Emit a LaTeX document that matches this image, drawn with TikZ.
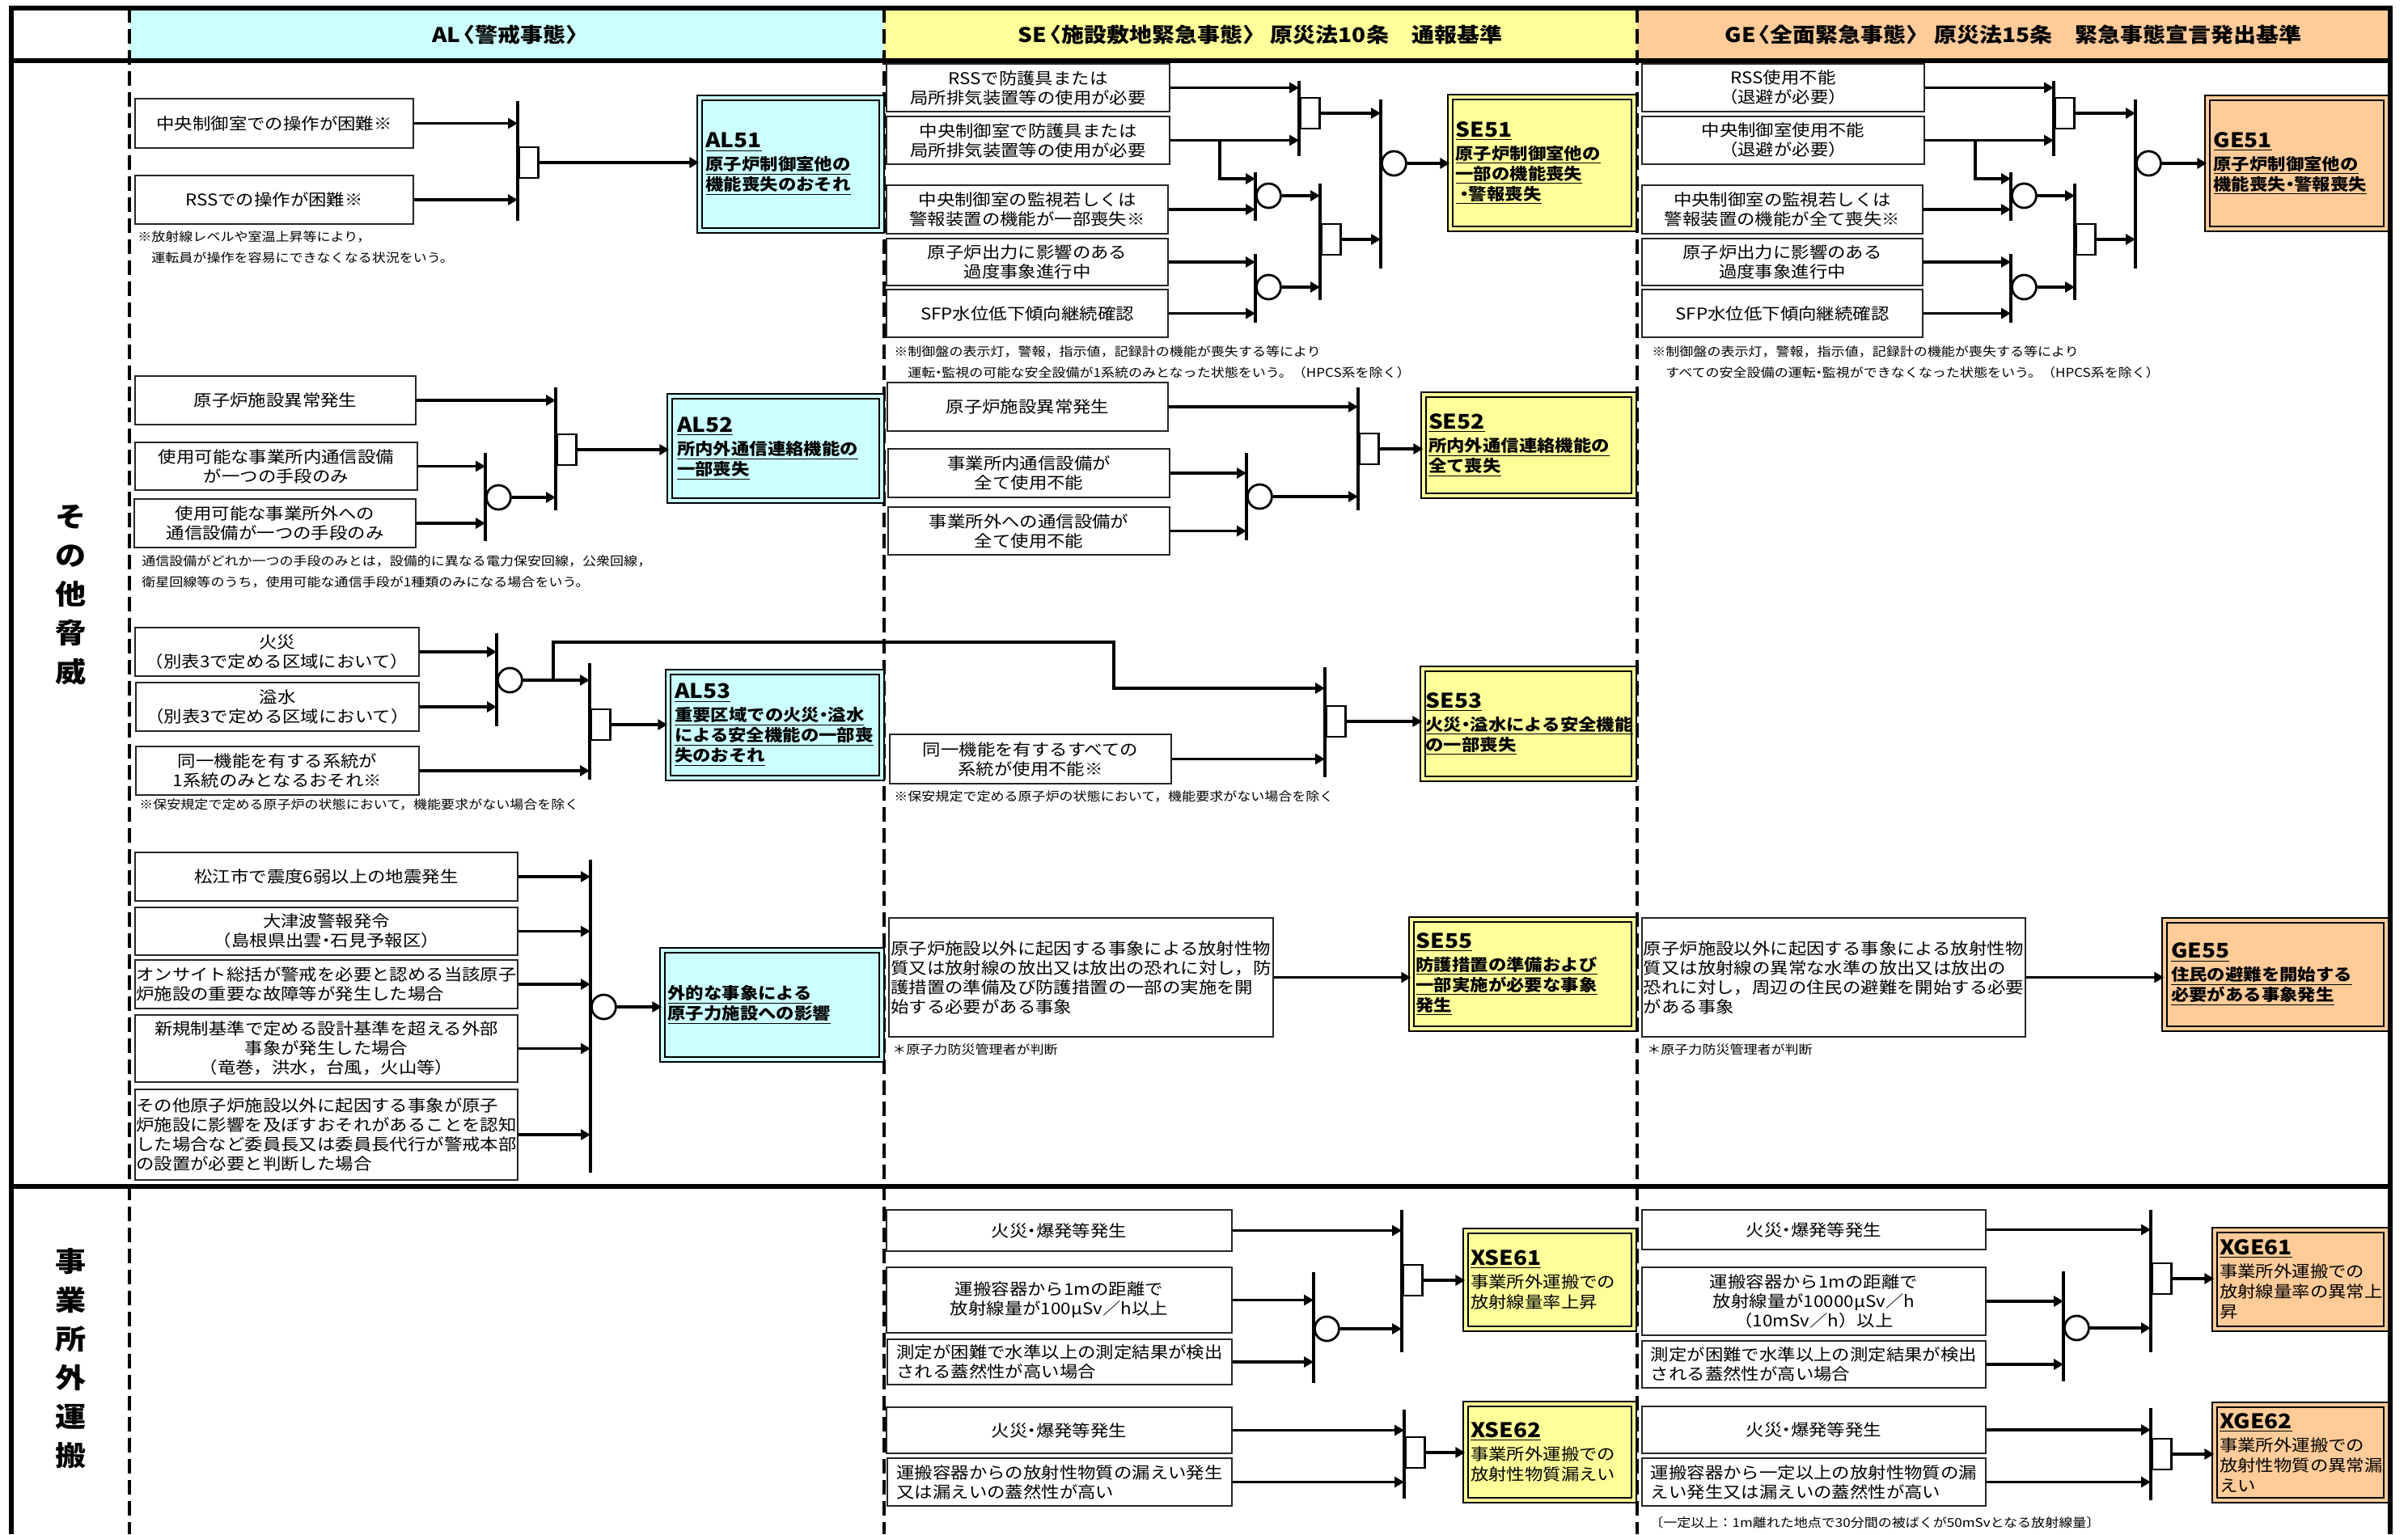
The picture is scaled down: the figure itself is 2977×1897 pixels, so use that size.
\documentclass[tikz,border=0pt]{standalone}
\usepackage{fontspec}
\setmainfont{Noto Sans CJK JP}[FakeStretch=1.12]
\usetikzlibrary{arrows.meta}

\definecolor{alcyan}{RGB}{204,255,255}
\definecolor{seyel}{RGB}{255,255,153}
\definecolor{georg}{RGB}{255,204,153}
\newcommand{\tcode}[1]{{\bfseries\fontsize{12.5}{14}\selectfont\underline{#1}}}
\newcommand{\nkdot}{\kern-.3em・\kern-.3em}

\begin{document}
\begin{tikzpicture}[
  x=0.5pt, y=-0.5pt,
  >={Triangle[length=6pt,width=6.5pt]},
  bx/.style args={#1,#2,#3,#4}{at={({(#1+#3)/2},{(#2+#4)/2})}, minimum width={(#3-#1)*0.5pt}, minimum height={(#4-#2)*0.5pt}},
  frame/.style={line width=2.6pt},
  colsep/.style={line width=2pt, dash pattern=on 9pt off 4pt},
  ev/.style={draw=black!85, fill=white, line width=0.8pt, inner sep=0pt, align=center, font=\fontsize{10}{12}\selectfont},
  evl/.style={ev, align=left},
  tgt/.style={draw, line width=0.7pt, double distance=2.2pt, inner sep=0pt, align=left, font=\bfseries\fontsize{10}{12.5}\selectfont},
  altgt/.style={tgt, fill=alcyan, double=alcyan},
  setgt/.style={tgt, fill=seyel, double=seyel},
  getgt/.style={tgt, fill=georg, double=georg},
  xtgt/.style={font=\fontsize{10}{12.5}\selectfont},
  arr/.style={->, line width=1.8pt},
  bar/.style={line width=1.8pt},
  andg/.style={draw, line width=1.4pt, fill=white, minimum width=12pt, minimum height=19pt, inner sep=0pt, anchor=west},
  org/.style={circle, draw, line width=1.4pt, fill=white, minimum size=15pt, inner sep=0pt, anchor=west},
  note/.style={anchor=north west, inner sep=0pt, align=left, font=\fontsize{7.6}{13}\selectfont},
  hdr/.style={font=\bfseries\fontsize{12.5}{14}\selectfont},
  side/.style={align=center, font=\bfseries\fontsize{17}{24}\selectfont}
]
\useasboundingbox (0,0) rectangle (2977,1897);

\fill[alcyan] (160,10) rectangle (1093,75);
\fill[seyel] (1093,10) rectangle (2024,75);
\fill[georg] (2024,10) rectangle (2955,75);
\node[hdr] (hAL) at (626,43) {AL\kern-.4em〈警戒事態〉\kern-.4em};
\node[hdr] (hSE) at (1558,43) {SE\kern-.4em〈施設敷地緊急事態〉\ 原災法10条　通報基準};
\node[hdr] (hGE) at (2489,43) {GE\kern-.4em〈全面緊急事態〉\ 原災法15条　緊急事態宣言発出基準};
\draw[colsep] (160,10) -- (160,1897);
\draw[colsep] (1093,10) -- (1093,1897);
\draw[colsep] (2024,10) -- (2024,1897);
\draw[frame] (14,1897) -- (14,10) -- (2955,10) -- (2955,1897);
\draw[frame] (14,75) -- (2955,75);
\draw[frame] (14,1467) -- (2955,1467);
\node[side] (sOther) at (88,735) {そ\\の\\他\\脅\\威};
\node[side] (sTrans) at (88,1680) {事\\業\\所\\外\\運\\搬};

% AL51
\node[ev, bx={167,122,511,183}] (a1a) {中央制御室での操作が困難※};
\node[ev, bx={167,217,511,277}] (a1b) {RSSでの操作が困難※};
\coordinate (a1p) at (640,125);
\coordinate (a1pb) at (640,273);
\draw[bar] (a1p) -- (a1pb);
\draw[arr] (a1a.east) -- (a1a.east -| a1p);
\draw[arr] (a1b.east) -- (a1b.east -| a1p);
\node[andg] (a1and) at (640,201) {};
\node[altgt, bx={865,121,1090,285}, text width=105pt] (AL51) {\tcode{AL51}\\[1.5pt]\underline{原子炉制御室他の}\\\underline{機能喪失のおそれ}};
\draw[arr] (a1and.east) -- (a1and.east -| AL51.west);
\node[note] (a1n) at (170,285) {※放射線レベルや室温上昇等により，\\　運転員が操作を容易にできなくなる状況をいう。};

% AL52
\node[ev, bx={167,465,514,525}] (a2a) {原子炉施設異常発生};
\node[ev, bx={167,547,516,606}] (a2b) {使用可能な事業所内通信設備\\が一つの手段のみ};
\node[ev, bx={166,617,514,677}] (a2c) {使用可能な事業所外への\\通信設備が一つの手段のみ};
\coordinate (a2q) at (600,560);
\coordinate (a2qb) at (600,669);
\coordinate (a2p) at (687,479);
\coordinate (a2pb) at (687,631);
\draw[bar] (a2q) -- (a2qb);
\draw[bar] (a2p) -- (a2pb);
\draw[arr] (a2b.east) -- (a2b.east -| a2q);
\draw[arr] (a2c.east) -- (a2c.east -| a2q);
\node[org] (a2qo) at (600,615) {};
\draw[arr] (a2a.east) -- (a2a.east -| a2p);
\draw[arr] (a2qo.east) -- (a2qo.east -| a2p);
\node[andg] (a2and) at (687,556) {};
\node[altgt, bx={828,490,1090,619}, text width=122pt] (AL52) {\tcode{AL52}\\[1.5pt]\underline{所内外通信連絡機能の}\\\underline{一部喪失}};
\draw[arr] (a2and.east) -- (a2and.east -| AL52.west);
\node[note] (a2n) at (175,686) {通信設備がどれか一つの手段のみとは，設備的に異なる電力保安回線，公衆回線，\\衛星回線等のうち，使用可能な通信手段が1種類のみになる場合をいう。};

% AL53
\node[ev, bx={167,776,518,836}] (a3a) {火災\\（別表3で定める区域において）};
\node[ev, bx={168,844,518,904}] (a3b) {溢水\\（別表3で定める区域において）};
\node[ev, bx={168,923,518,983}] (a3c) {同一機能を有する系統が\\1系統のみとなるおそれ※};
\coordinate (a3q) at (614,783);
\coordinate (a3qb) at (614,898);
\coordinate (a3p) at (729,820);
\coordinate (a3pb) at (729,964);
\draw[bar] (a3q) -- (a3qb);
\draw[bar] (a3p) -- (a3pb);
\draw[arr] (a3a.east) -- (a3a.east -| a3q);
\draw[arr] (a3b.east) -- (a3b.east -| a3q);
\node[org] (a3qo) at (614,841) {};
\draw[arr] (a3qo.east) -- (a3qo.east -| a3p);
\draw[arr] (a3c.east) -- (a3c.east -| a3p);
\node[andg] (a3and) at (729,896) {};
\node[altgt, bx={826,831,1090,962}, text width=124pt] (AL53) {\tcode{AL53}\\[1.5pt]\underline{重要区域での火災\nkdot 溢水}\\\underline{による安全機能の一部喪}\\\underline{失のおそれ}};
\draw[arr] (a3and.east) -- (a3and.east -| AL53.west);
\node[note] (a3n) at (172,987) {※保安規定で定める原子炉の状態において，機能要求がない場合を除く};
\coordinate (a3k) at (684,841);
\coordinate (a3m) at (1377,794);
\coordinate (s3in) at (1638,851);
\draw[arr] (a3k) |- (a3m) |- (s3in);

% external events
\node[ev, bx={167,1054,640,1114}] (x1) {松江市で震度6弱以上の地震発生};
\node[ev, bx={167,1122,640,1181}] (x2) {大津波警報発令\\（島根県出雲\nkdot 石見予報区）};
\node[evl, bx={167,1187,640,1247}] (x3) {オンサイト総括が警戒を必要と認める当該原子\\炉施設の重要な故障等が発生した場合};
\node[ev, bx={167,1255,640,1338}] (x4) {新規制基準で定める設計基準を超える外部\\事象が発生した場合\\（竜巻，洪水，台風，火山等）};
\node[evl, bx={167,1347,640,1459}] (x5) {その他原子炉施設以外に起因する事象が原子\\炉施設に影響を及ぼすおそれがあることを認知\\した場合など委員長又は委員長代行が警戒本部\\の設置が必要と判断した場合};
\coordinate (xq) at (730,1063);
\coordinate (xqb) at (730,1450);
\draw[bar] (xq) -- (xqb);
\foreach \n in {1,...,5}
  \draw[arr] (x\n.east) -- (x\n.east -| xq);
\node[org] (xqo) at (730,1245) {};
\node[altgt, bx={819,1175,1090,1310}, text width=129pt] (ALx) {\underline{外的な事象による}\\\underline{原子力施設への影響}};
\draw[arr] (xqo.east) -- (xqo.east -| ALx.west);

% SE51
\node[ev, bx={1096,79,1446,138}] (s1a) {RSSで防護具または\\局所排気装置等の使用が必要};
\node[ev, bx={1096,144,1446,203}] (s1b) {中央制御室で防護具または\\局所排気装置等の使用が必要};
\node[ev, bx={1096,229,1444,289}] (s1c) {中央制御室の監視若しくは\\警報装置の機能が一部喪失※};
\node[ev, bx={1096,295,1444,353}] (s1d) {原子炉出力に影響のある\\過度事象進行中};
\node[ev, bx={1096,358,1444,417}] (s1e) {SFP水位低下傾向継続確認};
\coordinate (s1p) at (1606,100);
\coordinate (s1pb) at (1606,193);
\coordinate (s1q) at (1552,213);
\coordinate (s1qb) at (1552,273);
\coordinate (s1r) at (1552,314);
\coordinate (s1rb) at (1552,399);
\coordinate (s1s) at (1632,227);
\coordinate (s1sb) at (1632,371);
\coordinate (s1t) at (1707,123);
\coordinate (s1tb) at (1707,332);
\coordinate (s1k) at (1508,221);
\draw[bar] (s1p) -- (s1pb);
\draw[bar] (s1q) -- (s1qb);
\draw[bar] (s1r) -- (s1rb);
\draw[bar] (s1s) -- (s1sb);
\draw[bar] (s1t) -- (s1tb);
\draw[arr] (s1a.east) -- (s1a.east -| s1p);
\draw[arr] (s1b.east) -- (s1b.east -| s1p);
\draw[arr] (s1b.east -| s1k) -- (s1k) -- (s1k -| s1q);
\draw[arr] (s1c.east) -- (s1c.east -| s1q);
\draw[arr] (s1d.east) -- (s1d.east -| s1r);
\draw[arr] (s1e.east) -- (s1e.east -| s1r);
\node[andg] (s1pand) at (1606,140) {};
\node[org] (s1qo) at (1552,242) {};
\node[org] (s1ro) at (1552,355) {};
\node[andg] (s1sand) at (1632,296) {};
\node[org] (s1to) at (1707,202) {};
\draw[arr] (s1pand.east) -- (s1pand.east -| s1t);
\draw[arr] (s1qo.east) -- (s1qo.east -| s1s);
\draw[arr] (s1ro.east) -- (s1ro.east -| s1s);
\draw[arr] (s1sand.east) -- (s1sand.east -| s1t);
\node[setgt, bx={1793,120,2020,283}, text width=107pt] (SE51) {\tcode{SE51}\\[1.5pt]\underline{原子炉制御室他の}\\\underline{一部の機能喪失}\\\underline{・\kern-.3em 警報喪失}};
\draw[arr] (s1to.east) -- (s1to.east -| SE51.west);
\node[note] (s1n) at (1105,427) {※制御盤の表示灯，警報，指示値，記録計の機能が喪失する等により\\　運転\nkdot 監視の可能な安全設備が1系統のみとなった状態をいう。（HPCS系を除く）};

% GE51
\node[ev, bx={2030,79,2379,138}] (g1a) {RSS使用不能\\（退避が必要）};
\node[ev, bx={2030,144,2379,203}] (g1b) {中央制御室使用不能\\（退避が必要）};
\node[ev, bx={2030,229,2377,289}] (g1c) {中央制御室の監視若しくは\\警報装置の機能が全て喪失※};
\node[ev, bx={2030,295,2377,353}] (g1d) {原子炉出力に影響のある\\過度事象進行中};
\node[ev, bx={2030,358,2377,417}] (g1e) {SFP水位低下傾向継続確認};
\coordinate (g1p) at (2539,100);
\coordinate (g1pb) at (2539,193);
\coordinate (g1q) at (2486,213);
\coordinate (g1qb) at (2486,273);
\coordinate (g1r) at (2486,314);
\coordinate (g1rb) at (2486,399);
\coordinate (g1s) at (2565,227);
\coordinate (g1sb) at (2565,371);
\coordinate (g1t) at (2640,123);
\coordinate (g1tb) at (2640,332);
\coordinate (g1k) at (2442,221);
\draw[bar] (g1p) -- (g1pb);
\draw[bar] (g1q) -- (g1qb);
\draw[bar] (g1r) -- (g1rb);
\draw[bar] (g1s) -- (g1sb);
\draw[bar] (g1t) -- (g1tb);
\draw[arr] (g1a.east) -- (g1a.east -| g1p);
\draw[arr] (g1b.east) -- (g1b.east -| g1p);
\draw[arr] (g1b.east -| g1k) -- (g1k) -- (g1k -| g1q);
\draw[arr] (g1c.east) -- (g1c.east -| g1q);
\draw[arr] (g1d.east) -- (g1d.east -| g1r);
\draw[arr] (g1e.east) -- (g1e.east -| g1r);
\node[andg] (g1pand) at (2539,140) {};
\node[org] (g1qo) at (2486,242) {};
\node[org] (g1ro) at (2486,355) {};
\node[andg] (g1sand) at (2565,296) {};
\node[org] (g1to) at (2640,202) {};
\draw[arr] (g1pand.east) -- (g1pand.east -| g1t);
\draw[arr] (g1qo.east) -- (g1qo.east -| g1s);
\draw[arr] (g1ro.east) -- (g1ro.east -| g1s);
\draw[arr] (g1sand.east) -- (g1sand.east -| g1t);
\node[getgt, bx={2729,121,2950,283}, text width=103pt] (GE51) {\tcode{GE51}\\[1.5pt]\underline{原子炉制御室他の}\\\underline{機能喪失\nkdot 警報喪失}};
\draw[arr] (g1to.east) -- (g1to.east -| GE51.west);
\node[note] (g1n) at (2042,427) {※制御盤の表示灯，警報，指示値，記録計の機能が喪失する等により\\　すべての安全設備の運転\nkdot 監視ができなくなった状態をいう。（HPCS系を除く）};

% SE52
\node[ev, bx={1097,473,1444,533}] (s2a) {原子炉施設異常発生};
\node[ev, bx={1098,555,1446,615}] (s2b) {事業所内通信設備が\\全て使用不能};
\node[ev, bx={1098,627,1446,686}] (s2c) {事業所外への通信設備が\\全て使用不能};
\coordinate (s2q) at (1541,560);
\coordinate (s2qb) at (1541,668);
\coordinate (s2p) at (1679,479);
\coordinate (s2pb) at (1679,631);
\draw[bar] (s2q) -- (s2qb);
\draw[bar] (s2p) -- (s2pb);
\draw[arr] (s2b.east) -- (s2b.east -| s2q);
\draw[arr] (s2c.east) -- (s2c.east -| s2q);
\node[org] (s2qo) at (1541,614) {};
\draw[arr] (s2a.east) -- (s2a.east -| s2p);
\draw[arr] (s2qo.east) -- (s2qo.east -| s2p);
\node[andg] (s2pand) at (1679,555) {};
\node[setgt, bx={1760,488,2020,613}, text width=124pt] (SE52) {\tcode{SE52}\\[1.5pt]\underline{所内外通信連絡機能の}\\\underline{全て喪失}};
\draw[arr] (s2pand.east) -- (s2pand.east -| SE52.west);

% SE53
\node[ev, bx={1100,908,1448,969}] (s3a) {同一機能を有するすべての\\系統が使用不能※};
\coordinate (s3p) at (1638,825);
\coordinate (s3pb) at (1638,961);
\draw[bar] (s3p) -- (s3pb);
\draw[arr] (s3a.east) -- (s3a.east -| s3p);
\node[andg] (s3pand) at (1638,892) {};
\node[setgt, bx={1759,827,2020,963}, text width=127pt] (SE53) {\tcode{SE53}\\[1.5pt]\underline{火災\nkdot 溢水による安全機能}\\\underline{の一部喪失}};
\draw[arr] (s3pand.east) -- (s3pand.east -| SE53.west);
\node[note] (s3n) at (1105,977) {※保安規定で定める原子炉の状態において，機能要求がない場合を除く};

% SE55 / GE55
\node[evl, bx={1099,1135,1574,1282}] (s5a) {原子炉施設以外に起因する事象による放射性物\\質又は放射線の放出又は放出の恐れに対し，防\\護措置の準備及び防護措置の一部の実施を開\\始する必要がある事象};
\node[setgt, bx={1745,1137,2020,1272}, text width=132pt] (SE55) {\tcode{SE55}\\[1.5pt]\underline{防護措置の準備および}\\\underline{一部実施が必要な事象}\\\underline{発生}};
\draw[arr] (s5a.east) -- (s5a.east -| SE55.west);
\node[note] (s5n) at (1103,1290) {＊原子力防災管理者が判断};
\node[evl, bx={2030,1135,2504,1282}] (g5a) {原子炉施設以外に起因する事象による放射性物\\質又は放射線の異常な水準の放出又は放出の\\恐れに対し，周辺の住民の避難を開始する必要\\がある事象};
\node[getgt, bx={2676,1138,2950,1272}, text width=129pt] (GE55) {\tcode{GE55}\\[1.5pt]\underline{住民の避難を開始する}\\\underline{必要がある事象発生}};
\draw[arr] (g5a.east) -- (g5a.east -| GE55.west);
\node[note] (g5n) at (2036,1290) {＊原子力防災管理者が判断};

% XSE61 / XSE62
\node[ev, bx={1096,1496,1523,1547}] (t1a) {火災\nkdot 爆発等発生};
\node[ev, bx={1096,1567,1523,1648}] (t1b) {運搬容器から1mの距離で\\放射線量が100μSv／h以上};
\node[evl, bx={1097,1656,1523,1712}] (t1c) {測定が困難で水準以上の測定結果が検出\\される蓋然性が高い場合};
\coordinate (t1q) at (1624,1573);
\coordinate (t1qb) at (1624,1710);
\coordinate (t1p) at (1733,1496);
\coordinate (t1pb) at (1733,1672);
\draw[bar] (t1q) -- (t1qb);
\draw[bar] (t1p) -- (t1pb);
\draw[arr] (t1b.east) -- (t1b.east -| t1q);
\draw[arr] (t1c.east) -- (t1c.east -| t1q);
\node[org] (t1qo) at (1624,1643) {};
\draw[arr] (t1a.east) -- (t1a.east -| t1p);
\draw[arr] (t1qo.east) -- (t1qo.east -| t1p);
\node[andg] (t1pand) at (1733,1583) {};
\node[setgt, xtgt, bx={1812,1522,2020,1643}, text width=98pt] (XSE61) {\tcode{XSE61}\\[1.5pt]事業所外運搬での\\放射線量率上昇};
\draw[arr] (t1pand.east) -- (t1pand.east -| XSE61.west);
\node[ev, bx={1096,1740,1523,1797}] (t2a) {火災\nkdot 爆発等発生};
\node[evl, bx={1097,1803,1523,1862}] (t2b) {運搬容器からの放射性物質の漏えい発生\\又は漏えいの蓋然性が高い};
\coordinate (t2p) at (1736,1743);
\coordinate (t2pb) at (1736,1853);
\draw[bar] (t2p) -- (t2pb);
\draw[arr] (t2a.east) -- (t2a.east -| t2p);
\draw[arr] (t2b.east) -- (t2b.east -| t2p);
\node[andg] (t2pand) at (1736,1796) {};
\node[setgt, xtgt, bx={1812,1736,2020,1855}, text width=98pt] (XSE62) {\tcode{XSE62}\\[1.5pt]事業所外運搬での\\放射性物質漏えい};
\draw[arr] (t2pand.east) -- (t2pand.east -| XSE62.west);

% XGE61 / XGE62
\node[ev, bx={2030,1496,2455,1545}] (u1a) {火災\nkdot 爆発等発生};
\node[ev, bx={2030,1567,2455,1651}] (u1b) {運搬容器から1mの距離で\\放射線量が10000μSv／h\\（10mSv／h）以上};
\node[evl, bx={2030,1658,2455,1716}] (u1c) {測定が困難で水準以上の測定結果が検出\\される蓋然性が高い場合};
\coordinate (u1q) at (2551,1572);
\coordinate (u1qb) at (2551,1708);
\coordinate (u1p) at (2659,1496);
\coordinate (u1pb) at (2659,1672);
\draw[bar] (u1q) -- (u1qb);
\draw[bar] (u1p) -- (u1pb);
\draw[arr] (u1b.east) -- (u1b.east -| u1q);
\draw[arr] (u1c.east) -- (u1c.east -| u1q);
\node[org] (u1qo) at (2551,1642) {};
\draw[arr] (u1a.east) -- (u1a.east -| u1p);
\draw[arr] (u1qo.east) -- (u1qo.east -| u1p);
\node[andg] (u1pand) at (2659,1581) {};
\node[getgt, xtgt, bx={2738,1521,2950,1643}, text width=100pt] (XGE61) {\tcode{XGE61}\\[1.5pt]事業所外運搬での\\放射線量率の異常上\\昇};
\draw[arr] (u1pand.east) -- (u1pand.east -| XGE61.west);
\node[ev, bx={2030,1739,2455,1797}] (u2a) {火災\nkdot 爆発等発生};
\node[evl, bx={2030,1803,2455,1862}] (u2b) {運搬容器から一定以上の放射性物質の漏\\えい発生又は漏えいの蓋然性が高い};
\coordinate (u2p) at (2659,1741);
\coordinate (u2pb) at (2659,1855);
\draw[bar] (u2p) -- (u2pb);
\draw[arr] (u2a.east) -- (u2a.east -| u2p);
\draw[arr] (u2b.east) -- (u2b.east -| u2p);
\node[andg] (u2pand) at (2659,1798) {};
\node[getgt, xtgt, bx={2738,1737,2950,1855}, text width=100pt] (XGE62) {\tcode{XGE62}\\[1.5pt]事業所外運搬での\\放射性物質の異常漏\\えい};
\draw[arr] (u2pand.east) -- (u2pand.east -| XGE62.west);
\node[note] (u2n) at (2039,1875) {〔一定以上：1m離れた地点で30分間の被ばくが50mSvとなる放射線量〕};
\end{tikzpicture}
\end{document}
